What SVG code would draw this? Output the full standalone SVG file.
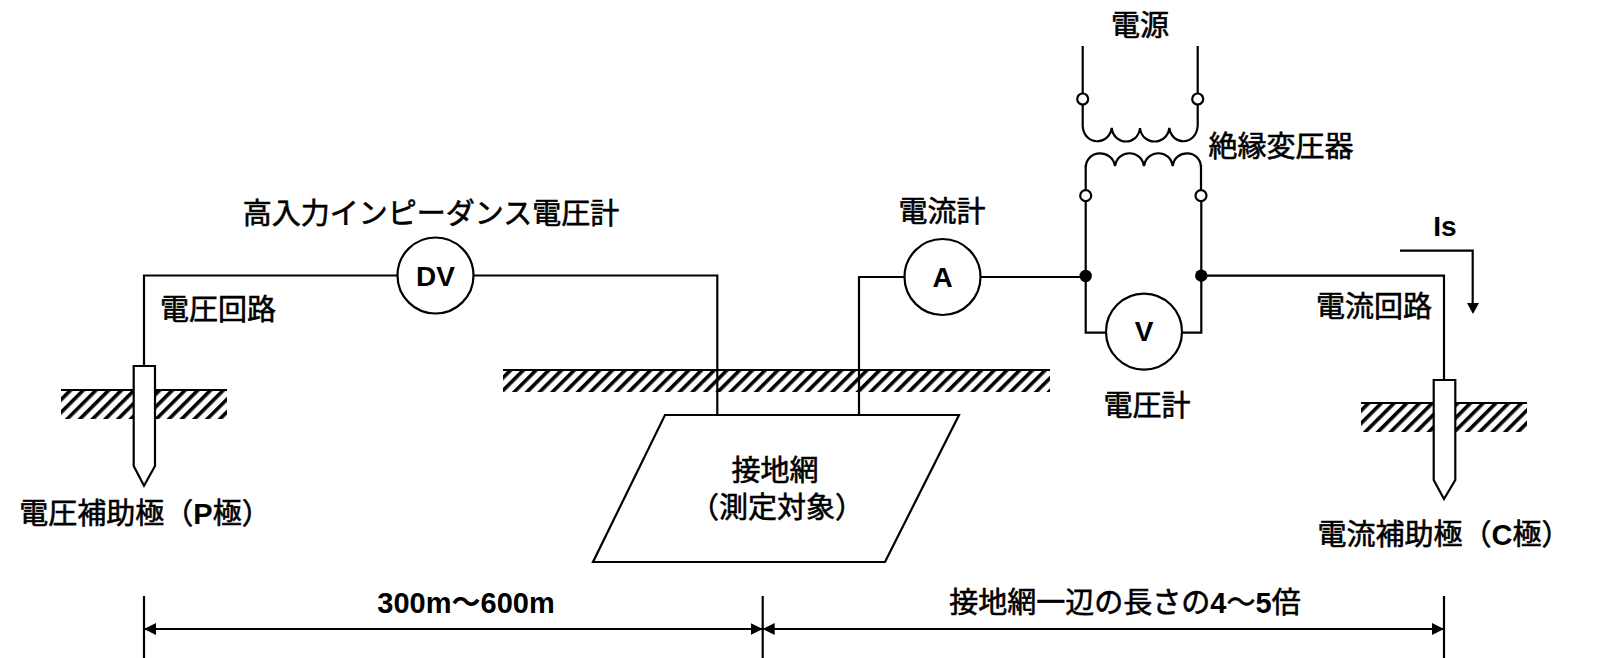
<svg xmlns="http://www.w3.org/2000/svg" width="1599" height="658" viewBox="0 0 1599 658">
<style>
text{font-family:"Liberation Sans","Noto Sans CJK JP",sans-serif;font-size:29px;fill:#000;stroke:#000;stroke-width:.6;text-anchor:middle;dominant-baseline:central}
.b{font-weight:700;stroke:none}
.l{font-weight:700;font-size:28px;stroke:none}
.w{fill:none;stroke:#000;stroke-width:2.2}
.n{fill:#fff;stroke:#000;stroke-width:2.2}
.d{fill:#000}
</style>
<defs>
<pattern id="hatch" width="9" height="9" patternUnits="userSpaceOnUse" patternTransform="rotate(45 0 0)"><rect x="0" y="0" width="3.600" height="9" fill="#000"/></pattern>
<marker id="ah" markerUnits="userSpaceOnUse" markerWidth="13" markerHeight="13" refX="12" refY="6.5" orient="auto-start-reverse"><path d="M0 0.5L12 6.5L0 12.5Z" fill="#000"/></marker>
</defs>
<g id="ground">
<rect x="61" y="390" width="166" height="29" fill="url(#hatch)"/><path class="w" d="M61 390H227"/>
<rect x="503" y="370" width="547" height="22" fill="url(#hatch)"/><path class="w" d="M503 370H1050"/>
<rect x="1361" y="403" width="166" height="29" fill="url(#hatch)"/><path class="w" d="M1361 403H1527"/>
</g>
<g id="connectors">
<path class="w" d="M144 366V275.5H397M473.500 275.500H717.300V415"/>
<path class="w" d="M859 415V277H904.500M980.500 277H1085.700"/>
<path class="w" d="M1082.700 46V93.500M1197.700 46V93.500M1082.700 104.500V126M1197.700 104.500V126"/>
<path class="w" d="M1085.700 165.500V190M1201 165.500V190M1085.700 201V332.700H1106M1201.300 201V332.700H1182"/>
<path class="w" d="M1201.300 275.700H1444V380"/>
<path class="w" d="M1400 250.700H1472.700V304"/>
<path d="M1467 303H1479L1473 314Z" class="d"/>
<path class="w" d="M144 596V658M762.700 596V658M1444 596V658"/>
<path class="w" d="M144 629H762.700" marker-start="url(#ah)" marker-end="url(#ah)"/>
<path class="w" d="M762.700 629H1444" marker-start="url(#ah)" marker-end="url(#ah)"/>
</g>
<g id="source-label"><text x="1140" y="26">電源</text></g>
<g id="transformer">
<circle class="n" cx="1082.700" cy="99" r="5.500"/><circle class="n" cx="1197.700" cy="99" r="5.500"/>
<path class="w" d="M1082.700 126C1084 146 1109 146 1111.700 128C1114 146 1138 146 1140 128C1142 146 1167 146 1169.300 128C1172 146 1196 146 1197.700 126"/>
<path class="w" d="M1085.700 167C1087 149 1112 149 1115 166C1118 149 1141 149 1144 166C1147 149 1170 149 1172.700 166C1175 149 1200 149 1201 167"/>
<circle class="n" cx="1085.700" cy="195.700" r="5.500"/><circle class="n" cx="1201" cy="195.700" r="5.500"/>
<text x="1281" y="147">絶縁変圧器</text>
</g>
<g id="junctions"><circle class="d" cx="1085.700" cy="276" r="6.200"/><circle class="d" cx="1201.300" cy="275.700" r="6.200"/></g>
<g id="dv-meter"><circle class="n" cx="435.500" cy="275.500" r="38"/><text class="l" x="435.500" y="276">DV</text><text x="431" y="214">高入力インピーダンス電圧計</text></g>
<g id="a-meter"><circle class="n" cx="942.500" cy="277" r="38"/><text class="l" x="942.500" y="277">A</text><text x="942" y="212">電流計</text></g>
<g id="v-meter"><circle class="n" cx="1144" cy="331.700" r="38"/><text class="l" x="1144" y="331">V</text><text x="1147" y="406">電圧計</text></g>
<g id="p-electrode"><path class="n" d="M133.700 366H155V466L144 485.700L133.700 466Z"/><text x="145" y="514">電圧補助極（<tspan class="b">P</tspan>極）</text></g>
<g id="c-electrode"><path class="n" d="M1433.700 380H1455.300V480L1444 499L1433.700 480Z"/><text x="1444" y="535">電流補助極（<tspan class="b">C</tspan>極）</text></g>
<g id="grid"><path class="n" d="M665 415H959L885 562H593Z"/><text x="775" y="471">接地網</text><text x="777" y="508">（測定対象）</text></g>
<g id="labels">
<text x="218" y="310">電圧回路</text>
<text x="1374" y="307">電流回路</text>
<text class="l" x="1445" y="226">Is</text>
<text class="b" x="466" y="603">300m～600m</text>
<text x="1125" y="603">接地網一辺の長さの<tspan class="b">4</tspan>～<tspan class="b">5</tspan>倍</text>
</g>
</svg>
